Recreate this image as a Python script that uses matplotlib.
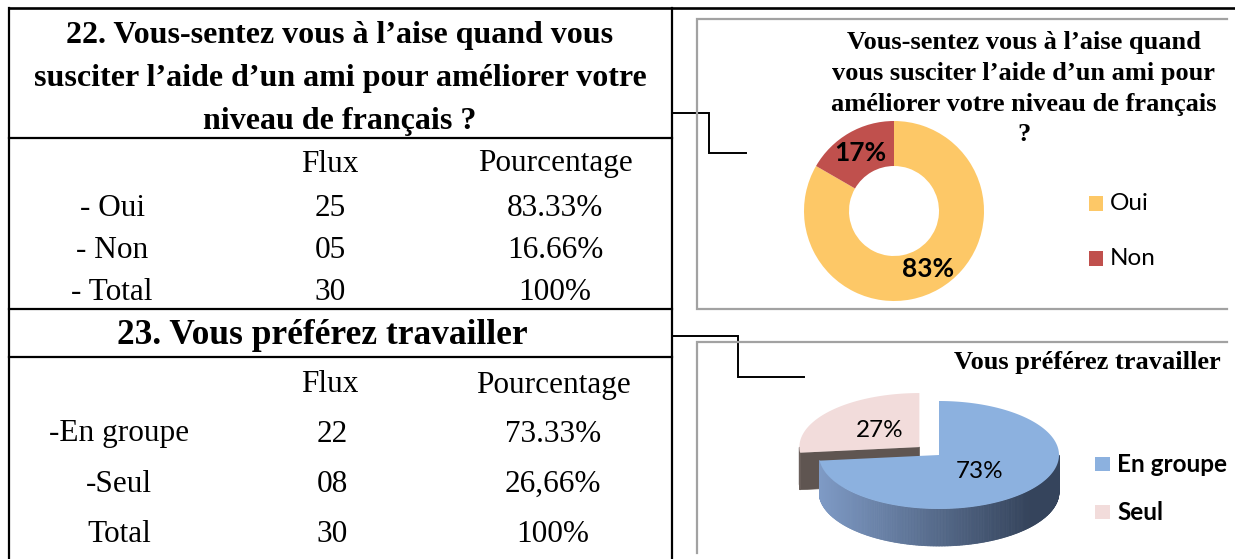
import numpy as np
import matplotlib
matplotlib.use("Agg")
import matplotlib.pyplot as plt
from matplotlib.patches import Polygon, Rectangle
from matplotlib.collections import PolyCollection
from matplotlib.colors import to_rgb

# ---------------- data ----------------
q22_title_lines = ["22. Vous-sentez vous à l’aise quand vous",
                   "susciter l’aide d’un ami pour améliorer votre",
                   "niveau de français ?"]
q22_col_headers = ["Flux", "Pourcentage"]
q22_row_labels = ["- Oui", "- Non", "- Total"]
q22_flux = ["25", "05", "30"]
q22_pct = ["83.33%", "16.66%", "100%"]
q22_categories = ["Oui", "Non"]
q22_counts = [25, 5]
q22_chart_title = ["Vous-sentez vous à l’aise quand",
                   "vous susciter l’aide d’un ami pour",
                   "améliorer votre niveau de français",
                   "?"]

q23_title = "23. Vous préférez travailler"
q23_col_headers = ["Flux", "Pourcentage"]
q23_row_labels = ["-En groupe", "-Seul", "Total"]
q23_flux = ["22", "08", "30"]
q23_pct = ["73.33%", "26,66%", "100%"]
q23_categories = ["En groupe", "Seul"]
q23_counts = [22, 8]
q23_chart_title = "Vous préférez travailler"

# ---------------- styles ----------------
SERIF = "Liberation Serif"
SANS = "Lato"
donut_colors = ["#FDC867", "#C0504D"]
pie_top_colors = ["#8CB1DF", "#F2DCDB"]
pie_side_light = ["#7F9BC6", "#6A5F5B"]
pie_side_dark = ["#35445C", "#4F4542"]
pie_cut_colors = ["#3E4E68", "#5F5551"]
explode = [0.0, 0.22]

W, H = 1235, 559
fig = plt.figure(figsize=(W / 100, H / 100), dpi=100)
fig.patch.set_facecolor("white")

bg = fig.add_axes([0, 0, 1, 1])
bg.set_xlim(0, W)
bg.set_ylim(H, 0)
bg.axis("off")


def line(xs, ys, color="black", lw=1.6):
    bg.plot(xs, ys, color=color, lw=lw, solid_capstyle="projecting",
            solid_joinstyle="miter")


# table borders
line([9, W], [8, 8], lw=1.9)
line([9, 9], [8, H])
line([672, 672], [8, H])
for yy in (138, 309, 357):
    line([9, 672], [yy, yy])

# connectors
line([672, 709, 709, 746], [113, 113, 153, 153], lw=1.4)
line([672, 738, 738, 804], [336, 336, 377, 377], lw=1.4)

# chart frames (gray)
gray = "#A2A2A2"
line([1227, 697, 697, 1227], [19, 19, 309, 309], color=gray, lw=1.6)
line([1227, 697, 697], [342, 342, 553], color=gray, lw=1.6)

# ---------------- left table text ----------------
for i, t in enumerate(q22_title_lines):
    bg.text(340, 36 + i * 42.5, t, family=SERIF, weight="bold", fontsize=23,
            ha="center", va="center")
col_x1 = [330, 555]
bg.text(col_x1[0], 164, q22_col_headers[0], family=SERIF, fontsize=22.5,
        ha="center", va="center")
bg.text(col_x1[1], 164, q22_col_headers[1], family=SERIF, fontsize=22.5,
        ha="center", va="center")
for i, (r, f, p) in enumerate(zip(q22_row_labels, q22_flux, q22_pct)):
    y = 208 + i * 42
    bg.text(112, y, r, family=SERIF, fontsize=22.5, ha="center", va="center")
    bg.text(col_x1[0], y, f, family=SERIF, fontsize=22.5, ha="center", va="center")
    bg.text(col_x1[1], y, p, family=SERIF, fontsize=22.5, ha="center", va="center")

bg.text(322, 335, q23_title, family=SERIF, weight="bold", fontsize=25.5,
        ha="center", va="center")
bg.text(col_x1[0], 385, q23_col_headers[0], family=SERIF, fontsize=22.5,
        ha="center", va="center")
bg.text(553, 385, q23_col_headers[1], family=SERIF, fontsize=22.5,
        ha="center", va="center")
for i, (r, f, p) in enumerate(zip(q23_row_labels, q23_flux, q23_pct)):
    y = 434 + i * 50
    bg.text(119, y, r, family=SERIF, fontsize=22.5, ha="center", va="center")
    bg.text(332, y, f, family=SERIF, fontsize=22.5, ha="center", va="center")
    bg.text(553, y, p, family=SERIF, fontsize=22.5, ha="center", va="center")

# ---------------- chart 1: donut ----------------
for i, t in enumerate(q22_chart_title):
    bg.text(1024, 43 + i * 30.5, t, family=SERIF, weight="bold", fontsize=19,
            ha="center", va="center")

cx, cy, r = 894, 211, 90
ax1 = fig.add_axes([(cx - r) / W, (H - cy - r) / H, 2 * r / W, 2 * r / H])
wedges, texts, autotexts = ax1.pie(
    q22_counts, colors=donut_colors, startangle=90, counterclock=False,
    radius=1, wedgeprops=dict(width=0.5, edgecolor="none"),
    autopct="%.0f%%", pctdistance=0.75,
    textprops=dict(family=SANS, weight="bold", fontsize=19, color="black"))
ax1.set_xlim(-1, 1)
ax1.set_ylim(-1, 1)
ax1.axis("off")

for i, (lab, col) in enumerate(zip(q22_categories, donut_colors)):
    y0 = 196 + i * 55
    bg.add_patch(Rectangle((1089, y0), 14, 15, facecolor=col, edgecolor="none"))
    bg.text(1110, y0 + 7.5, lab, family=SANS, fontsize=17.5, ha="left",
            va="center")

# ---------------- chart 2: 3D pie ----------------
bg.text(1087, 362, q23_chart_title, family=SERIF, weight="bold", fontsize=19,
        ha="center", va="center")

pcx, pcy, a = 939, 455, 120.0
k = 54 / a          # tilt ratio
depth = 37 / a      # thickness
x_lo, x_hi = 770, 1092
y_top, y_bot = 380, H
ax2 = fig.add_axes([x_lo / W, (H - y_bot) / H, (x_hi - x_lo) / W,
                    (y_bot - y_top) / H])
ax2.set_xlim((x_lo - pcx) / a, (x_hi - pcx) / a)
ax2.set_ylim(-(y_bot - pcy) / a, (pcy - y_top) / a)
ax2.axis("off")

vals = np.array(q23_counts, dtype=float)
fr = vals / vals.sum()
starts = 90 - 360 * np.concatenate([[0], np.cumsum(fr)[:-1]])
ends = starts - 360 * fr


def mix(c1, c2, t):
    c1, c2 = np.array(to_rgb(c1)), np.array(to_rgb(c2))
    return tuple(c1 + (c2 - c1) * t)


draw_order = sorted(range(len(vals)), key=lambda i: -explode[i])
for i in draw_order:
    lo, hi = ends[i], starts[i]
    if hi <= -90:
        lo += 360
        hi += 360
    mid = np.radians((lo + hi) / 2)
    ox, oy = explode[i] * np.cos(mid), explode[i] * k * np.sin(mid)
    ts = np.radians(np.linspace(lo, hi, 361))
    xs = ox + np.cos(ts)
    ys = oy + k * np.sin(ts)
    # radial cut faces
    for ang, nrm in ((lo, lo - 90), (hi, hi + 90)):
        if np.sin(np.radians(nrm)) < -1e-6:
            ex_ = ox + np.cos(np.radians(ang))
            ey_ = oy + k * np.sin(np.radians(ang))
            ax2.add_patch(Polygon([(ox, oy), (ex_, ey_), (ex_, ey_ - depth),
                                   (ox, oy - depth)], closed=True,
                                  facecolor=pie_cut_colors[i],
                                  edgecolor=pie_cut_colors[i], lw=0.5))
    # curved outer side
    segs, cols = [], []
    for j in range(len(ts) - 1):
        tm = (ts[j] + ts[j + 1]) / 2
        if np.sin(tm) < 0:
            segs.append([(xs[j], ys[j]), (xs[j + 1], ys[j + 1]),
                         (xs[j + 1], ys[j + 1] - depth), (xs[j], ys[j] - depth)])
            t = np.clip((np.cos(tm) + 1) / 1.75, 0, 1)
            cols.append(mix(pie_side_light[i], pie_side_dark[i], t))
    if segs:
        ax2.add_collection(PolyCollection(segs, facecolors=cols,
                                          edgecolors=cols, linewidths=0.6))
    # top face
    ax2.add_patch(Polygon([(ox, oy)] + list(zip(xs, ys)), closed=True,
                          facecolor=pie_top_colors[i], edgecolor="none"))
    # label
    ld = 0.45
    ax2.text(ox + ld * np.cos(mid), oy + ld * k * np.sin(mid),
             f"{fr[i] * 100:.0f}%", family=SANS, fontsize=17.5,
             ha="center", va="center", color="black")

for i, (lab, col) in enumerate(zip(q23_categories, pie_top_colors)):
    y0 = 457 + i * 48
    bg.add_patch(Rectangle((1095, y0), 15, 14, facecolor=col, edgecolor="none"))
    bg.text(1117, y0 + 7, lab, family=SANS, weight="bold", fontsize=17.5,
            ha="left", va="center")

fig.savefig("out.png", dpi=100, facecolor="white")
